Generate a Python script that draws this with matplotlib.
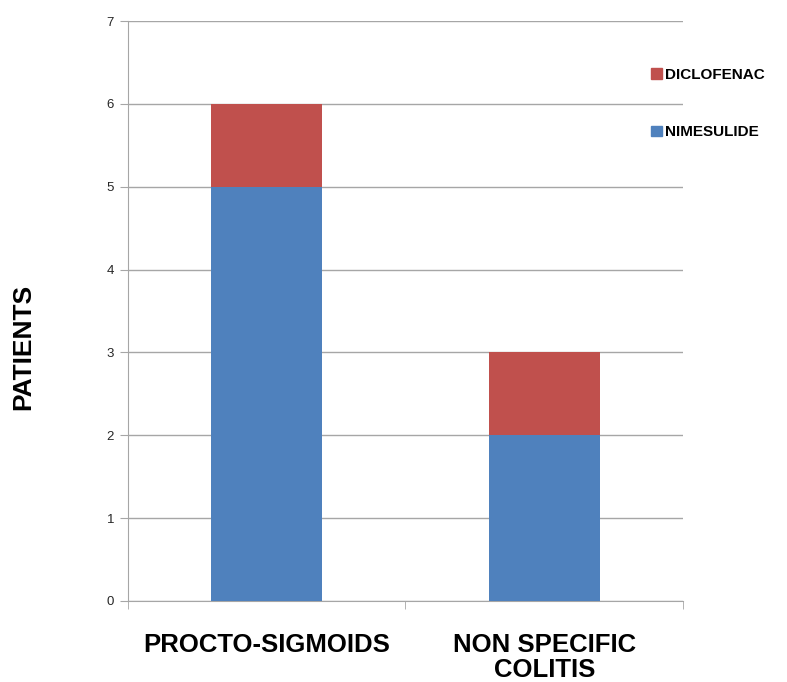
import matplotlib.pyplot as plt
import numpy as np
from matplotlib.patches import Patch

# data
categories = ["PROCTO-SIGMOIDS", "NON SPECIFIC\nCOLITIS"]
nimesulide = [5, 2]
diclofenac = [1, 1]

BLUE = "#4f81bd"
RED = "#c0504d"
GRID = "#a6a6a6"

plt.rcParams['font.family'] = ['Liberation Sans', 'DejaVu Sans']

fig = plt.figure(figsize=(7.87, 6.82), dpi=100)
ax = fig.add_axes([0.1626, 0.1188, 0.7052, 0.8504])

x = np.arange(len(categories))
ax.bar(x, nimesulide, width=0.4, color=BLUE, zorder=3)
ax.bar(x, diclofenac, width=0.4, bottom=nimesulide, color=RED, zorder=3)

ax.set_xlim(-0.5, 1.5)
ax.set_ylim(0, 7)
ax.set_yticks(range(8))
ax.yaxis.grid(True, color=GRID, linewidth=1, zorder=0)
ax.tick_params(axis='y', length=6, color=GRID, labelsize=9.5, labelcolor="#262626", pad=4)

# category labels centred, boundary ticks between categories
ax.set_xticks(x)
ax.set_xticklabels(categories, fontsize=18.5, fontweight='bold')
for lbl in ax.get_xticklabels():
    lbl.set_linespacing(1.05)
ax.tick_params(axis='x', which='major', length=0, pad=23)
ax.set_xticks([-0.5, 0.5, 1.5], minor=True)
ax.tick_params(axis='x', which='minor', length=6, color=GRID)

for side in ['top', 'right']:
    ax.spines[side].set_visible(False)
for side in ['left', 'bottom']:
    ax.spines[side].set_color(GRID)

fig.text(0.030, 0.492, "PATIENTS", rotation=90, fontsize=19, fontweight='bold',
         ha='center', va='center')

handles = [Patch(color=RED, label="DICLOFENAC"), Patch(color=BLUE, label="NIMESULIDE")]
fig.legend(handles=handles, loc='upper left', bbox_to_anchor=(0.810, 0.9206),
           frameon=False, prop={'weight': 'bold', 'size': 11},
           handlelength=0.7, handleheight=0.7, handletextpad=0.2, labelspacing=2.85)

fig.savefig("out.png", dpi=100)
